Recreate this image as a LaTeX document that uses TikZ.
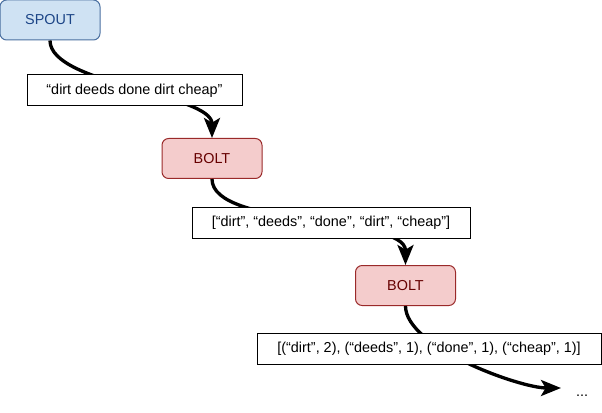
\documentclass[tikz,border=0pt]{standalone}
\usepackage{fontspec}
\setmainfont{Liberation Sans}
\usetikzlibrary{arrows.meta}
\definecolor{spoutfill}{HTML}{CFE2F3}
\definecolor{spoutline}{HTML}{4A6FA0}
\definecolor{spouttext}{HTML}{1C4587}
\definecolor{boltfill}{HTML}{F4CCCC}
\definecolor{boltline}{HTML}{9A2A2A}
\definecolor{bolttext}{HTML}{660000}

\begin{document}
\begin{tikzpicture}[
  x=0.75pt, y=-0.75pt,
  >={Stealth[length=15pt,width=12pt,inset=3.5pt]},
  font=\fontsize{10.8}{13}\selectfont,
  spout/.style={rectangle, rounded corners=5pt, draw=spoutline, fill=spoutfill, text=spouttext, minimum width=75pt, minimum height=30pt, line width=0.75pt},
  bolt/.style={rectangle, rounded corners=5pt, draw=boltline, fill=boltfill, text=bolttext, minimum width=75pt, minimum height=30pt, line width=0.75pt},
  tuple/.style={rectangle, draw, fill=white, minimum height=23.25pt, line width=0.75pt},
  flow/.style={->, line width=2.5pt, looseness=0.6}
]
\useasboundingbox (0,0) rectangle (602,413);

% stream flow (drawn first, the tuple boxes sit on top)
\node[spout] (spout) at (50,20) {SPOUT};
\node[bolt] (split) at (212,158.5) {BOLT};
\node[bolt] (count) at (405.5,285.5) {BOLT};
\node (more) at (582,396) {...};
\coordinate (end) at (561,388);

\draw[flow] (spout.south) to[out=-90, in=90] (split.north);
\draw[flow] (split.south) to[out=-90, in=90] (count.north);
\draw[flow] (count.south) to[out=-90, in=180] (end);

% tuples emitted between the components
\node[tuple, minimum width=161.25pt] (sentence) at (134.5,90.5) {“dirt deeds done dirt cheap”};
\node[tuple, minimum width=208.5pt] (words) at (331,222.5) {[“dirt”, “deeds”, “done”, “dirt”, “cheap”]};
\node[tuple, minimum width=258pt] (counts) at (429,348.5) {[(“dirt”, 2), (“deeds”, 1), (“done”, 1), (“cheap”, 1)]};

\end{tikzpicture}
\end{document}
